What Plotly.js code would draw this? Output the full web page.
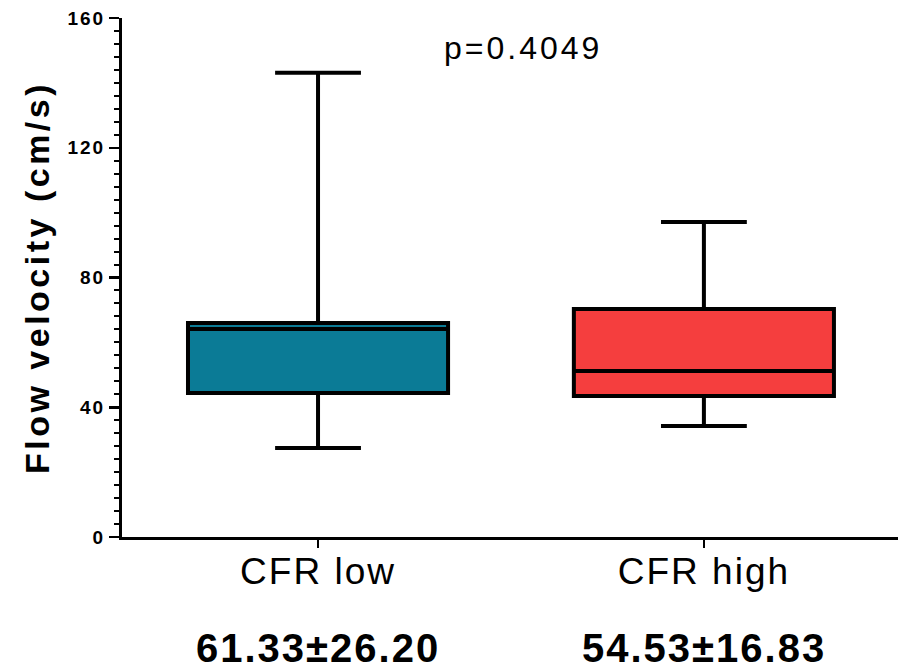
<!DOCTYPE html>
<html>
<head>
<meta charset="utf-8">
<script src="https://cdn.plot.ly/plotly-3.0.1.min.js"></script>
<style>
  body { margin: 0; background: #fff; }
  #chart { width: 903px; height: 671px; }
  .ytitle { letter-spacing: 3.5px; }
  .xtick text { letter-spacing: 2px; }
  .ytick text { letter-spacing: 2px; }
  g.annotation[data-index="0"] text, g.annotation[data-index="1"] text { letter-spacing: 2px; }
  g.annotation[data-index="2"] text { letter-spacing: 3px; }
</style>
</head>
<body>
<div id="chart"></div>
<script>
const categories = ['CFR low', 'CFR high'];
const lowerFence = [27.4, 34.2];
const q1Values = [44.4, 43.5];
const medianValues = [64.1, 51.2];
const q3Values = [66.0, 70.3];
const upperFence = [143.1, 97.1];
const boxColors = ['#0b7b96', '#f53e3e'];
const summaryLabels = ['61.33±26.20', '54.53±16.83'];
const pText = 'p=0.4049';
const yTicks = [0, 40, 80, 120, 160];

const FONT = '"Liberation Sans", Arial, sans-serif';

const traces = categories.map((c, i) => ({
  type: 'box',
  x: [c],
  q1: [q1Values[i]],
  median: [medianValues[i]],
  q3: [q3Values[i]],
  lowerfence: [lowerFence[i]],
  upperfence: [upperFence[i]],
  fillcolor: boxColors[i],
  line: { color: '#000', width: 4 },
  width: 0.674,
  whiskerwidth: 0.33,
  boxpoints: false,
  hoverinfo: 'skip',
  showlegend: false
}));

const annotations = summaryLabels.map((t, i) => ({
  text: t,
  x: categories[i],
  xref: 'x',
  y: -0.2138,
  yref: 'paper',
  xanchor: 'center',
  yanchor: 'middle',
  showarrow: false,
  font: { family: FONT, size: 40, color: '#000', weight: 'bold' }
}));
annotations.push({
  text: pText,
  x: 0.517,
  xref: 'paper',
  y: 160,
  yref: 'y',
  xanchor: 'center',
  yanchor: 'middle',
  yshift: -30,
  showarrow: false,
  font: { family: FONT, size: 32, color: '#000' }
});

const layout = {
  width: 903,
  height: 671,
  margin: { l: 122, r: 5, t: 18, b: 134 },
  paper_bgcolor: '#fff',
  plot_bgcolor: '#fff',
  showlegend: false,
  boxmode: 'overlay',
  xaxis: {
    type: 'category',
    categoryarray: categories,
    range: [-0.508, 1.503],
    showline: true,
    linecolor: '#000',
    linewidth: 3,
    ticks: 'outside',
    ticklen: 8,
    tickwidth: 2,
    tickcolor: '#000',
    showgrid: false,
    zeroline: false,
    ticklabelstandoff: -8,
    tickfont: { family: FONT, size: 37, color: '#000' }
  },
  yaxis: {
    range: [0, 160],
    tickvals: yTicks,
    ticktext: yTicks.map(String),
    showline: true,
    linecolor: '#000',
    linewidth: 3,
    ticks: 'outside',
    ticklen: 10,
    tickwidth: 2.5,
    tickcolor: '#000',
    showgrid: false,
    zeroline: false,
    tickfont: { family: FONT, size: 19, color: '#000', weight: 'bold' },
    minor: { dtick: 4, ticks: 'outside', ticklen: 5, tickwidth: 2, tickcolor: '#000', showgrid: false },
    title: {
      text: 'Flow velocity (cm/s)',
      font: { family: FONT, size: 34, color: '#000', weight: 'bold' },
      standoff: 8
    }
  },
  annotations: annotations
};

Plotly.newPlot('chart', traces, layout, { displayModeBar: false, staticPlot: true });
</script>
</body>
</html>
